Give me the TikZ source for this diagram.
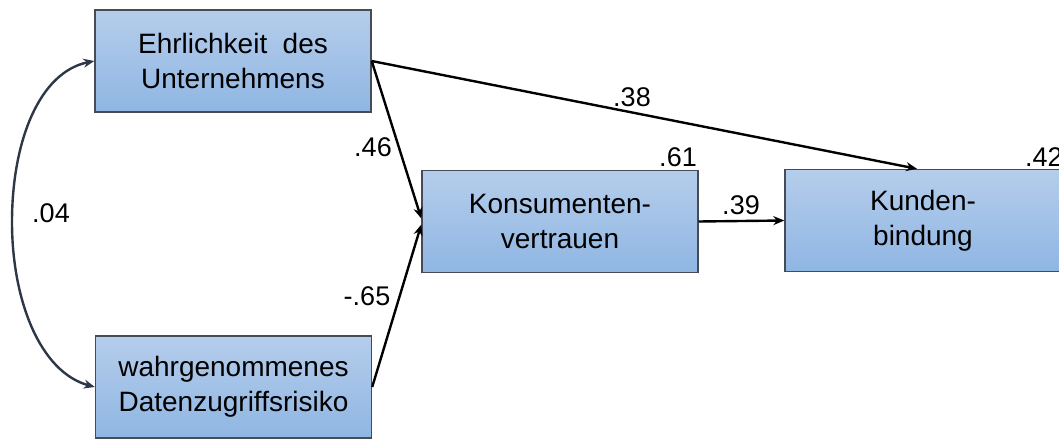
\documentclass[tikz,border=0pt]{standalone}
\usepackage{fontspec}
\setmainfont{Liberation Sans}
\usetikzlibrary{arrows.meta}
\definecolor{boxtop}{RGB}{181,205,235}
\definecolor{boxbot}{RGB}{143,182,227}
\definecolor{boxline}{RGB}{70,75,85}
\definecolor{curvecol}{RGB}{45,55,70}
\tikzset{
  varbox/.style={draw=boxline, line width=1.4pt, top color=boxtop, bottom color=boxbot,
    minimum width=276pt, minimum height=102pt, inner sep=0pt, align=center,
    font=\fontsize{28}{35}\selectfont},
  arr/.style={line width=2.4pt, -{Stealth[length=11pt,width=9pt]}},
  coef/.style={font=\fontsize{27}{32}\selectfont, inner sep=0pt}
}
\begin{document}
\begin{tikzpicture}[x=1pt,y=-1pt]
\useasboundingbox (0,0) rectangle (1059,441);
\node[varbox] (A) at (233,61) {Ehrlichkeit\hspace{0.55em}des\\Unternehmens};
\node[varbox] (B) at (233.5,387) {wahrgenommenes\\Datenzugriffsrisiko};
\node[varbox] (C) at (560,221.5) {Konsumenten-\\vertrauen};
\node[varbox] (D) at (923,220.5) {Kunden-\\bindung};
\draw[arr] (A.east) -- ([xshift=-6pt]D.north);
\draw[arr] (A.east) -- ([yshift=3pt]C.west);
\draw[arr] (B.east) -- ([yshift=-3pt]C.west);
\draw[arr] (C.east) -- (D.west);
\draw[line width=2.4pt, draw=curvecol, {Stealth[length=11pt,width=9pt]}-{Stealth[length=11pt,width=9pt]}]
  (A.west) .. controls (40,72) and (12,140) .. (12,222) .. controls (12,300) and (40,372) .. (B.west);
\node[coef] (l38) at (632,97) {.38};
\node[coef] (l46) at (373,147) {.46};
\node[coef] (l65) at (367,296) {-.65};
\node[coef] (l39) at (741,205) {.39};
\node[coef] (l04) at (51,213) {.04};
\node[coef] (l61) at (678,157) {.61};
\node[coef, anchor=west] (l42) at (1025,157) {.42};
\end{tikzpicture}
\end{document}
